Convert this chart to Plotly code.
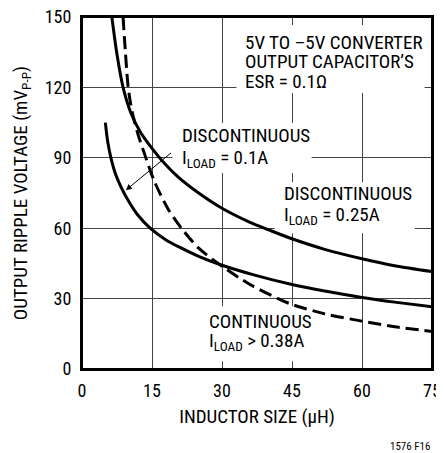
import plotly.graph_objects as go

# Inductor size (uH) vs output ripple (mVp-p)
x_disc_025 = [6.4, 7.5, 8.8, 10.5, 12.5, 15, 17.5, 20.5, 25, 30, 36, 40, 45, 52, 60, 67, 75]
y_disc_025 = [150, 134, 120, 109, 101, 94, 88, 82, 75, 68.5, 62.5, 59.3, 55.5, 51, 47, 44, 41.5]

x_disc_01 = [5, 5.5, 6.2, 7.2, 8.5, 10, 12, 14.6, 18, 21, 25, 30, 37, 45, 52, 60, 67, 75]
y_disc_01 = [105, 97, 90, 83, 77, 71.5, 65.5, 60, 55, 51.8, 48, 44.2, 40, 36, 33.2, 30.5, 28.5, 26.5]

x_cont = [8.8, 9.3, 9.9, 10.7, 12, 13.6, 15.5, 18.5, 21.5, 25, 30, 36, 42, 45, 52, 60, 67, 75]
y_cont = [150, 135, 120, 110, 100, 90.5, 80, 68, 59.5, 51.5, 43.8, 36, 30, 27.5, 23.5, 20.4, 18, 16]

x_ticks = [0, 15, 30, 45, 60, 75]
y_ticks = [0, 30, 60, 90, 120, 150]

FONT = "Liberation Sans Narrow, Arial Narrow, Roboto Condensed, Liberation Sans, sans-serif"
LINE = dict(color="black", width=3)

fig = go.Figure()

# white patches that break the grid behind the labels (drawn before the curves)
for x0, x1, y0, y1 in [(33.1, 73.4, 117.6, 146.6), (19.4, 49.2, 83.5, 104.8),
                       (41.3, 71.3, 57.9, 79.6), (25.2, 50.3, 3.3, 26.7)]:
    fig.add_trace(go.Scatter(x=[x0, x1, x1, x0, x0], y=[y0, y0, y1, y1, y0],
                             mode="lines", fill="toself", fillcolor="white",
                             line=dict(width=0, color="white"), hoverinfo="skip"))

fig.add_trace(go.Scatter(x=x_disc_025, y=y_disc_025, mode="lines",
                         line=dict(**LINE, shape="spline", smoothing=0.8)))
fig.add_trace(go.Scatter(x=x_disc_01, y=y_disc_01, mode="lines",
                         line=dict(**LINE, shape="spline", smoothing=0.8)))
fig.add_trace(go.Scatter(x=x_cont, y=y_cont, mode="lines",
                         line=dict(**LINE, dash="13px,6px", shape="spline", smoothing=0.8)))

labels = [
    (34.4, 139.0, "5V TO –5V CONVERTER"),
    (34.4, 131.0, "OUTPUT CAPACITOR’S"),
    (34.4, 122.7, "ESR = 0.1Ω"),
    (20.9, 99.7, "DISCONTINUOUS"),
    (20.9, 89.9, "I<sub>LOAD</sub> = 0.1A"),
    (42.8, 74.9, "DISCONTINUOUS"),
    (42.8, 65.6, "I<sub>LOAD</sub> = 0.25A"),
    (26.7, 20.4, "CONTINUOUS"),
    (26.7, 11.9, "I<sub>LOAD</sub> > 0.38A"),
]
for lx, ly, txt in labels:
    fig.add_annotation(x=lx, y=ly, text=txt, showarrow=False, xanchor="left",
                       yanchor="middle", font=dict(size=19, color="black"))

# arrow pointing at the 0.1A curve
fig.add_annotation(x=9.4, y=76.2, ax=19.4, ay=92.6, axref="x", ayref="y", text="",
                   showarrow=True, arrowhead=2, arrowsize=1.2, arrowwidth=1, arrowcolor="black")

fig.add_annotation(x=1, y=0, xref="paper", yref="paper", xanchor="right", yanchor="middle",
                   text="1576 F16", showarrow=False, yshift=-77,
                   font=dict(size=11, color="black"))

# plot frame
fig.add_shape(type="rect", xref="paper", yref="paper", x0=0, x1=1, y0=0, y1=1,
              line=dict(color="black", width=2), layer="above")

axis = dict(showgrid=True, gridcolor="#444", gridwidth=1, zeroline=False,
            showline=True, linecolor="black", linewidth=2, mirror=True, ticks="",
            automargin=False, ticklabeloverflow="allow",
            tickfont=dict(size=18, color="black"))
fig.update_xaxes(axis, range=[0, 75], tickvals=x_ticks, ticklabelstandoff=4,
                 title=dict(text="INDUCTOR SIZE (µH)", font=dict(size=19, color="black"), standoff=10))
fig.update_yaxes(axis, range=[0, 150], tickvals=y_ticks, ticklabelstandoff=5,
                 title=dict(text="OUTPUT RIPPLE VOLTAGE (mV<sub>P-P</sub>)",
                            font=dict(size=19, color="black"), standoff=12))

# page body adds an 8px margin, so the figure is sized/offset to compensate
fig.update_layout(
    width=436, height=445,
    margin=dict(l=74, r=12, t=9, b=84),
    plot_bgcolor="white", paper_bgcolor="white",
    font=dict(family=FONT, color="black"),
    showlegend=False,
)

fig.write_html("out.html")
